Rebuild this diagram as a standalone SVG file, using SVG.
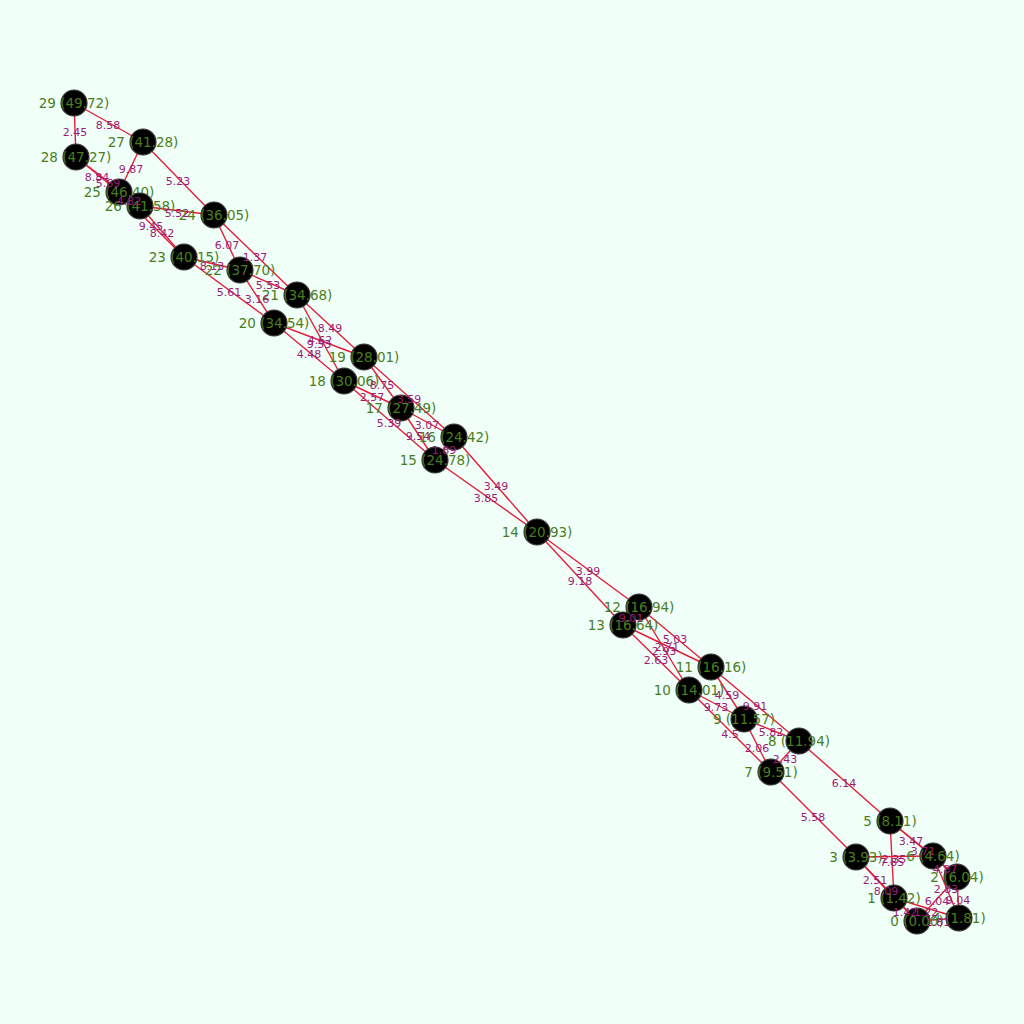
<svg xmlns="http://www.w3.org/2000/svg" width="1024" height="1024" viewBox="0 0 1024 1024">
<style>
.bg{fill:#f0fff8}
.e{stroke:#e41e3c;stroke-width:1.4;fill:none}
.n{fill:#000;stroke:#3a3a3a;stroke-width:1.2}
.nl{font-family:"DejaVu Sans",sans-serif;font-size:13.5px;fill:#4a7d1e;text-anchor:middle;dominant-baseline:central}
.el{font-family:"DejaVu Sans",sans-serif;font-size:11px;fill:#9c1c78;text-anchor:middle;dominant-baseline:central}
</style>
<rect class="bg" x="0" y="0" width="1024" height="1024"/>
<g id="edges">
<line class="e" x1="74" y1="103" x2="76" y2="157"/>
<line class="e" x1="74" y1="103" x2="143" y2="142"/>
<line class="e" x1="143" y1="142" x2="119" y2="192"/>
<line class="e" x1="143" y1="142" x2="214" y2="215"/>
<line class="e" x1="76" y1="157" x2="119" y2="192"/>
<line class="e" x1="76" y1="157" x2="140" y2="206"/>
<line class="e" x1="119" y1="192" x2="140" y2="206"/>
<line class="e" x1="140" y1="206" x2="214" y2="215"/>
<line class="e" x1="119" y1="192" x2="184" y2="257"/>
<line class="e" x1="140" y1="206" x2="184" y2="257"/>
<line class="e" x1="214" y1="215" x2="240" y2="270"/>
<line class="e" x1="214" y1="215" x2="297" y2="295"/>
<line class="e" x1="184" y1="257" x2="240" y2="270"/>
<line class="e" x1="184" y1="257" x2="274" y2="323"/>
<line class="e" x1="240" y1="270" x2="297" y2="295"/>
<line class="e" x1="240" y1="270" x2="274" y2="323"/>
<line class="e" x1="297" y1="295" x2="364" y2="357"/>
<line class="e" x1="297" y1="295" x2="344" y2="381"/>
<line class="e" x1="274" y1="323" x2="364" y2="357"/>
<line class="e" x1="274" y1="323" x2="344" y2="381"/>
<line class="e" x1="364" y1="357" x2="401" y2="408"/>
<line class="e" x1="364" y1="357" x2="454" y2="437"/>
<line class="e" x1="344" y1="381" x2="401" y2="408"/>
<line class="e" x1="344" y1="381" x2="435" y2="460"/>
<line class="e" x1="401" y1="408" x2="454" y2="437"/>
<line class="e" x1="401" y1="408" x2="435" y2="460"/>
<line class="e" x1="454" y1="437" x2="435" y2="460"/>
<line class="e" x1="454" y1="437" x2="537" y2="532"/>
<line class="e" x1="435" y1="460" x2="537" y2="532"/>
<line class="e" x1="537" y1="532" x2="639" y2="607"/>
<line class="e" x1="537" y1="532" x2="623" y2="625"/>
<line class="e" x1="639" y1="607" x2="623" y2="625"/>
<line class="e" x1="639" y1="607" x2="711" y2="667"/>
<line class="e" x1="639" y1="607" x2="689" y2="690"/>
<line class="e" x1="623" y1="625" x2="711" y2="667"/>
<line class="e" x1="623" y1="625" x2="689" y2="690"/>
<line class="e" x1="711" y1="667" x2="744" y2="719"/>
<line class="e" x1="711" y1="667" x2="799" y2="741"/>
<line class="e" x1="689" y1="690" x2="744" y2="719"/>
<line class="e" x1="689" y1="690" x2="771" y2="772"/>
<line class="e" x1="744" y1="719" x2="799" y2="741"/>
<line class="e" x1="744" y1="719" x2="771" y2="772"/>
<line class="e" x1="799" y1="741" x2="771" y2="772"/>
<line class="e" x1="799" y1="741" x2="890" y2="821"/>
<line class="e" x1="771" y1="772" x2="856" y2="857"/>
<line class="e" x1="890" y1="821" x2="933" y2="856"/>
<line class="e" x1="890" y1="821" x2="957" y2="877"/>
<line class="e" x1="890" y1="821" x2="894" y2="898"/>
<line class="e" x1="856" y1="857" x2="933" y2="856"/>
<line class="e" x1="933" y1="856" x2="957" y2="877"/>
<line class="e" x1="933" y1="856" x2="959" y2="918"/>
<line class="e" x1="957" y1="877" x2="959" y2="918"/>
<line class="e" x1="957" y1="877" x2="917" y2="921"/>
<line class="e" x1="856" y1="857" x2="894" y2="898"/>
<line class="e" x1="856" y1="857" x2="917" y2="921"/>
<line class="e" x1="894" y1="898" x2="917" y2="921"/>
<line class="e" x1="894" y1="898" x2="959" y2="918"/>
<line class="e" x1="917" y1="921" x2="959" y2="918"/>
</g>
<g id="node29"><circle class="n" cx="74" cy="103" r="13"/><text class="nl" x="74" y="103">29 (49.72)</text></g>
<g id="node28"><circle class="n" cx="76" cy="157" r="13"/><text class="nl" x="76" y="157">28 (47.27)</text></g>
<g id="node27"><circle class="n" cx="143" cy="142" r="13"/><text class="nl" x="143" y="142">27 (41.28)</text></g>
<g id="node25"><circle class="n" cx="119" cy="192" r="13"/><text class="nl" x="119" y="192">25 (46.40)</text></g>
<g id="node26"><circle class="n" cx="140" cy="206" r="13"/><text class="nl" x="140" y="206">26 (41.58)</text></g>
<g id="node24"><circle class="n" cx="214" cy="215" r="13"/><text class="nl" x="214" y="215">24 (36.05)</text></g>
<g id="node23"><circle class="n" cx="184" cy="257" r="13"/><text class="nl" x="184" y="257">23 (40.15)</text></g>
<g id="node22"><circle class="n" cx="240" cy="270" r="13"/><text class="nl" x="240" y="270">22 (37.70)</text></g>
<g id="node21"><circle class="n" cx="297" cy="295" r="13"/><text class="nl" x="297" y="295">21 (34.68)</text></g>
<g id="node20"><circle class="n" cx="274" cy="323" r="13"/><text class="nl" x="274" y="323">20 (34.54)</text></g>
<g id="node19"><circle class="n" cx="364" cy="357" r="13"/><text class="nl" x="364" y="357">19 (28.01)</text></g>
<g id="node18"><circle class="n" cx="344" cy="381" r="13"/><text class="nl" x="344" y="381">18 (30.06)</text></g>
<g id="node17"><circle class="n" cx="401" cy="408" r="13"/><text class="nl" x="401" y="408">17 (27.49)</text></g>
<g id="node16"><circle class="n" cx="454" cy="437" r="13"/><text class="nl" x="454" y="437">16 (24.42)</text></g>
<g id="node15"><circle class="n" cx="435" cy="460" r="13"/><text class="nl" x="435" y="460">15 (24.78)</text></g>
<g id="node14"><circle class="n" cx="537" cy="532" r="13"/><text class="nl" x="537" y="532">14 (20.93)</text></g>
<g id="node12"><circle class="n" cx="639" cy="607" r="13"/><text class="nl" x="639" y="607">12 (16.94)</text></g>
<g id="node13"><circle class="n" cx="623" cy="625" r="13"/><text class="nl" x="623" y="625">13 (16.64)</text></g>
<g id="node11"><circle class="n" cx="711" cy="667" r="13"/><text class="nl" x="711" y="667">11 (16.16)</text></g>
<g id="node10"><circle class="n" cx="689" cy="690" r="13"/><text class="nl" x="689" y="690">10 (14.01)</text></g>
<g id="node9"><circle class="n" cx="744" cy="719" r="13"/><text class="nl" x="744" y="719">9 (11.57)</text></g>
<g id="node8"><circle class="n" cx="799" cy="741" r="13"/><text class="nl" x="799" y="741">8 (11.94)</text></g>
<g id="node7"><circle class="n" cx="771" cy="772" r="13"/><text class="nl" x="771" y="772">7 (9.51)</text></g>
<g id="node5"><circle class="n" cx="890" cy="821" r="13"/><text class="nl" x="890" y="821">5 (8.11)</text></g>
<g id="node3"><circle class="n" cx="856" cy="857" r="13"/><text class="nl" x="856" y="857">3 (3.93)</text></g>
<g id="node6"><circle class="n" cx="933" cy="856" r="13"/><text class="nl" x="933" y="856">6 (4.64)</text></g>
<g id="node2"><circle class="n" cx="957" cy="877" r="13"/><text class="nl" x="957" y="877">2 (6.04)</text></g>
<g id="node1"><circle class="n" cx="894" cy="898" r="13"/><text class="nl" x="894" y="898">1 (1.42)</text></g>
<g id="node0"><circle class="n" cx="917" cy="921" r="13"/><text class="nl" x="917" y="921">0 (0.00)</text></g>
<g id="node4"><circle class="n" cx="959" cy="918" r="13"/><text class="nl" x="959" y="918">4 (1.81)</text></g>
<g id="edge-labels">
<text class="el" x="75" y="132">2.45</text>
<text class="el" x="108" y="125">8.58</text>
<text class="el" x="131" y="169">9.87</text>
<text class="el" x="178" y="181">5.23</text>
<text class="el" x="97" y="177">8.84</text>
<text class="el" x="108" y="183">5.69</text>
<text class="el" x="129" y="201">4.82</text>
<text class="el" x="177" y="213">5.52</text>
<text class="el" x="151" y="226">9.45</text>
<text class="el" x="162" y="233">8.42</text>
<text class="el" x="227" y="245">6.07</text>
<text class="el" x="255" y="257">1.37</text>
<text class="el" x="212" y="266">8.13</text>
<text class="el" x="229" y="292">5.61</text>
<text class="el" x="268" y="285">5.53</text>
<text class="el" x="257" y="299">3.16</text>
<text class="el" x="330" y="328">8.49</text>
<text class="el" x="320" y="340">4.62</text>
<text class="el" x="319" y="344">9.53</text>
<text class="el" x="309" y="354">4.48</text>
<text class="el" x="382" y="385">8.75</text>
<text class="el" x="409" y="399">3.59</text>
<text class="el" x="372" y="397">2.57</text>
<text class="el" x="389" y="423">5.39</text>
<text class="el" x="427" y="425">3.07</text>
<text class="el" x="418" y="436">9.54</text>
<text class="el" x="444" y="450">1.89</text>
<text class="el" x="496" y="486">3.49</text>
<text class="el" x="486" y="498">3.85</text>
<text class="el" x="588" y="571">3.99</text>
<text class="el" x="580" y="581">9.18</text>
<text class="el" x="631" y="618">9.01</text>
<text class="el" x="675" y="639">5.03</text>
<text class="el" x="664" y="651">2.93</text>
<text class="el" x="667" y="647">2.71</text>
<text class="el" x="656" y="660">2.63</text>
<text class="el" x="727" y="695">4.59</text>
<text class="el" x="755" y="706">9.91</text>
<text class="el" x="716" y="707">9.73</text>
<text class="el" x="730" y="734">4.5</text>
<text class="el" x="771" y="732">5.82</text>
<text class="el" x="757" y="748">2.06</text>
<text class="el" x="785" y="759">2.43</text>
<text class="el" x="844" y="783">6.14</text>
<text class="el" x="813" y="817">5.58</text>
<text class="el" x="911" y="841">3.47</text>
<text class="el" x="923" y="851">3.71</text>
<text class="el" x="892" y="862">7.85</text>
<text class="el" x="894" y="859">2.35</text>
<text class="el" x="945" y="869">4.87</text>
<text class="el" x="946" y="889">2.83</text>
<text class="el" x="958" y="900">9.04</text>
<text class="el" x="937" y="901">6.04</text>
<text class="el" x="875" y="880">2.51</text>
<text class="el" x="886" y="891">8.09</text>
<text class="el" x="905" y="912">1.42</text>
<text class="el" x="926" y="912">1.22</text>
<text class="el" x="938" y="922">1.81</text>
</g>
</svg>
